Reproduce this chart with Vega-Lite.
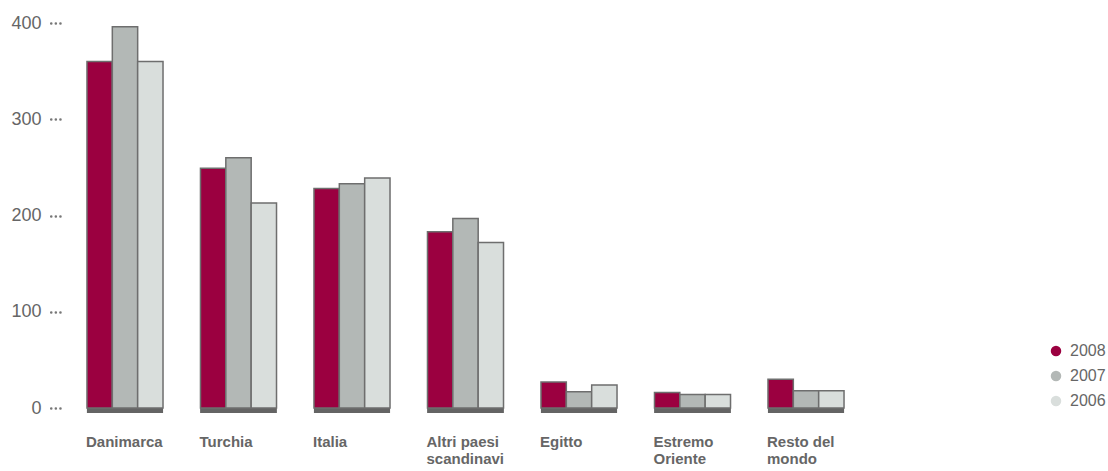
{
  "$schema": "https://vega.github.io/schema/vega-lite/v6.json",
  "width": 807,
  "height": 385,
  "autosize": {"type": "none"},
  "padding": {"left": 62, "top": 23, "right": 239, "bottom": 63},
  "background": "white",
  "config": {
    "view": {"stroke": null},
    "font": "Liberation Sans"
  },
  "data": {
    "values": [
      {"Paese": "Danimarca", "Anno": "2008", "Valore": 360},
      {"Paese": "Danimarca", "Anno": "2007", "Valore": 396},
      {"Paese": "Danimarca", "Anno": "2006", "Valore": 360},
      {"Paese": "Turchia", "Anno": "2008", "Valore": 249},
      {"Paese": "Turchia", "Anno": "2007", "Valore": 260},
      {"Paese": "Turchia", "Anno": "2006", "Valore": 213},
      {"Paese": "Italia", "Anno": "2008", "Valore": 228},
      {"Paese": "Italia", "Anno": "2007", "Valore": 233},
      {"Paese": "Italia", "Anno": "2006", "Valore": 239},
      {"Paese": "Altri paesi scandinavi", "Anno": "2008", "Valore": 183},
      {"Paese": "Altri paesi scandinavi", "Anno": "2007", "Valore": 197},
      {"Paese": "Altri paesi scandinavi", "Anno": "2006", "Valore": 172},
      {"Paese": "Egitto", "Anno": "2008", "Valore": 27},
      {"Paese": "Egitto", "Anno": "2007", "Valore": 17},
      {"Paese": "Egitto", "Anno": "2006", "Valore": 24},
      {"Paese": "Estremo Oriente", "Anno": "2008", "Valore": 16},
      {"Paese": "Estremo Oriente", "Anno": "2007", "Valore": 14},
      {"Paese": "Estremo Oriente", "Anno": "2006", "Valore": 14},
      {"Paese": "Resto del mondo", "Anno": "2008", "Valore": 30},
      {"Paese": "Resto del mondo", "Anno": "2007", "Valore": 18},
      {"Paese": "Resto del mondo", "Anno": "2006", "Valore": 18}
    ]
  },
  "encoding": {
    "x": {
      "field": "Paese",
      "type": "nominal",
      "sort": null,
      "title": null,
      "scale": {"paddingInner": 0.33, "paddingOuter": 0.22},
      "axis": {
        "domain": false,
        "ticks": false,
        "grid": false,
        "labelAngle": 0,
        "labelAlign": "left",
        "labelBaseline": "top",
        "labelOffset": -39,
        "labelPadding": 26,
        "labelFontWeight": "bold",
        "labelFontSize": 15,
        "labelColor": "#666666",
        "labelLineHeight": 17,
        "labelExpr": "datum.label == 'Altri paesi scandinavi' ? ['Altri paesi', 'scandinavi'] : datum.label == 'Estremo Oriente' ? ['Estremo', 'Oriente'] : datum.label == 'Resto del mondo' ? ['Resto del', 'mondo'] : datum.label"
      }
    }
  },
  "layer": [
    {
      "mark": {"type": "rect", "color": "#646464", "y2Offset": 5},
      "encoding": {
        "y": {"datum": 0, "type": "quantitative"},
        "y2": {"datum": 0}
      }
    },
    {
      "mark": {"type": "bar", "stroke": "#6e6e6e", "strokeWidth": 1.5},
      "encoding": {
        "xOffset": {"field": "Anno", "type": "nominal", "sort": ["2008", "2007", "2006"]},
        "y": {
          "field": "Valore",
          "type": "quantitative",
          "title": null,
          "scale": {"domain": [0, 400], "nice": false},
          "axis": {
            "values": [0, 100, 200, 300, 400],
            "domain": false,
            "grid": false,
            "offset": 2,
            "tickSize": 13,
            "tickWidth": 2.5,
            "tickCap": "round",
            "tickDash": [0.1, 4.5],
            "tickColor": "#777777",
            "labelPadding": 6,
            "labelFontSize": 18,
            "labelColor": "#666666"
          }
        },
        "color": {
          "field": "Anno",
          "type": "nominal",
          "scale": {"domain": ["2008", "2007", "2006"], "range": ["#9b0040", "#b3b8b6", "#d9dedc"]},
          "legend": {
            "title": null,
            "orient": "none",
            "legendX": 986,
            "legendY": 320,
            "symbolType": "circle",
            "symbolSize": 110,
            "symbolStrokeWidth": 0,
            "labelFontSize": 16,
            "labelColor": "#666666",
            "rowPadding": 9,
            "labelOffset": 6
          }
        }
      }
    }
  ]
}
